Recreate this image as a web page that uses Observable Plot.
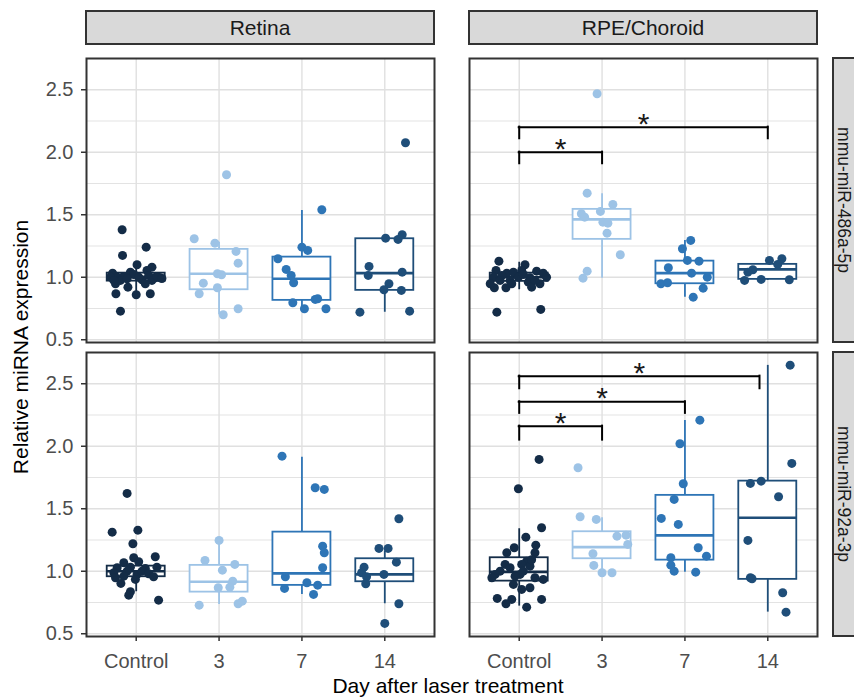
<!DOCTYPE html>
<html><head><meta charset="utf-8">
<script src="https://cdn.jsdelivr.net/npm/d3@7"></script>
<script src="https://cdn.jsdelivr.net/npm/@observablehq/plot@0.6"></script>
<style>body{margin:0;background:#fff;} #chart{width:854px;height:700px;overflow:hidden;}</style>
</head><body><div id="chart"></div>
<script>
const tissues = ["Retina", "RPE/Choroid"];
const mirnas = ["mmu-miR-486a-5p", "mmu-miR-92a-3p"];
const groups = ["Control", "3", "7", "14"];
const groupColors = ["#142c47", "#9dc3e6", "#2e75b6", "#1f4e79"];
const yTicks = [0.5, 1.0, 1.5, 2.0, 2.5];
const yMinor = [0.75, 1.25, 1.75, 2.25];
const xTitle = "Day after laser treatment";
const yTitle = "Relative miRNA expression";

// points: [jitter (category units), relative expression]
const ret486Ctrl = [[-0.17,1.38],[0.12,1.241],[-0.165,1.175],[0.01,1.10],[0.19,1.081],[-0.285,1.033],[-0.07,1.041],[0.13,1.055],[0.23,0.996],[0.29,0.996],[-0.23,1.001],[-0.15,1.007],[-0.03,1.023],[0.07,0.98],[-0.25,0.948],[-0.10,0.921],[-0.245,0.868],[0.0,0.86],[0.17,0.868],[-0.19,0.729],[-0.31,1.001],[-0.19,0.975],[-0.11,0.988],[0.03,1.001],[0.15,1.015],[0.19,0.975],[-0.27,0.975],[0.11,0.948],[0.25,1.007],[0.31,0.99]];
const ret486D3 = [[0.09,1.82],[-0.30,1.308],[-0.05,1.273],[0.205,1.207],[0.23,1.113],[-0.02,1.028],[0.03,1.02],[-0.19,0.953],[-0.02,0.916],[-0.24,0.868],[0.05,0.70],[0.23,0.748]];
const ret486D7 = [[0.24,1.54],[0.0,1.241],[0.07,1.215],[-0.29,1.148],[-0.19,1.063],[-0.13,1.015],[-0.10,0.956],[-0.11,0.796],[0.16,0.823],[0.19,0.828],[0.03,0.748],[0.29,0.748]];
const ret486D14 = [[0.25,2.076],[0.01,1.313],[0.16,1.303],[0.21,1.34],[-0.19,1.087],[-0.20,1.015],[0.21,1.041],[0.05,0.948],[-0.01,0.90],[0.20,0.895],[-0.30,0.721],[0.30,0.729]];

const rpe486Ctrl = [[-0.245,1.129],[0.07,1.10],[-0.28,1.055],[-0.15,1.033],[-0.07,1.041],[0.03,1.055],[0.21,1.049],[0.29,1.033],[-0.31,1.001],[-0.21,1.015],[-0.01,1.001],[0.13,0.996],[0.33,1.001],[-0.11,0.975],[0.11,0.961],[-0.30,0.916],[-0.16,0.916],[0.15,0.921],[-0.35,0.948],[0.25,0.948],[-0.27,0.721],[0.26,0.743],[-0.23,0.975],[0.05,1.023],[0.19,0.975],[-0.09,0.948]];
const rpe486D3 = [[-0.06,2.468],[-0.18,1.673],[0.13,1.583],[-0.02,1.527],[-0.25,1.508],[-0.21,1.481],[0.01,1.441],[0.07,1.433],[0.06,1.353],[0.22,1.18],[-0.18,1.049],[-0.23,0.993]];
const rpe486D7 = [[0.07,1.295],[-0.03,1.228],[0.03,1.135],[0.17,1.129],[-0.20,1.076],[0.08,1.033],[0.27,1.001],[-0.29,0.948],[-0.21,0.956],[0.22,0.913],[0.10,0.841]];
const rpe486D14 = [[0.02,1.135],[0.17,1.148],[0.12,1.103],[-0.18,1.06],[-0.24,1.041],[-0.08,0.983],[0.26,0.98],[-0.28,0.975]];

const ret92Ctrl = [[-0.11,1.623],[-0.29,1.313],[0.02,1.329],[-0.04,1.22],[-0.03,1.108],[0.23,1.116],[-0.15,1.068],[0.03,1.076],[-0.23,1.028],[-0.07,1.033],[0.11,1.023],[0.25,1.033],[-0.27,0.988],[-0.11,1.001],[0.01,0.975],[0.07,1.001],[0.15,0.98],[0.21,0.956],[-0.25,0.948],[-0.15,0.961],[-0.185,0.903],[-0.07,0.836],[-0.09,0.809],[0.27,0.769],[-0.01,0.935]];
const ret92D3 = [[0.0,1.247],[-0.17,1.087],[0.19,1.055],[0.04,1.009],[0.165,0.921],[-0.01,0.868],[0.13,0.873],[-0.24,0.729],[0.23,0.74],[0.28,0.761]];
const ret92D7 = [[-0.24,1.921],[0.16,1.668],[0.27,1.655],[0.25,1.201],[0.27,1.148],[0.25,1.028],[-0.20,0.956],[-0.21,0.863],[0.06,0.908],[0.19,0.889],[0.14,0.815]];
const ret92D14 = [[0.17,1.42],[-0.07,1.183],[0.04,1.183],[0.14,1.073],[-0.25,1.033],[-0.28,0.988],[-0.22,0.956],[-0.23,0.90],[-0.01,0.975],[0.17,0.74],[0.0,0.583]];

const rpe92Ctrl = [[0.24,1.895],[-0.01,1.66],[0.27,1.348],[0.08,1.273],[0.20,1.209],[-0.06,1.188],[-0.15,1.148],[0.19,1.148],[0.09,1.081],[-0.17,1.055],[-0.11,1.028],[0.03,1.055],[0.13,1.041],[0.01,0.975],[0.05,1.001],[0.29,0.935],[-0.07,0.895],[0.13,0.868],[0.03,0.855],[-0.265,0.783],[-0.09,0.775],[-0.16,0.74],[0.09,0.713],[0.27,0.775],[-0.29,0.975],[-0.23,1.001],[-0.05,0.961],[0.19,0.948],[-0.33,0.948],[0.15,1.092]];
const rpe92D3 = [[-0.29,1.828],[-0.265,1.436],[-0.07,1.415],[0.18,1.281],[0.29,1.289],[0.31,1.215],[-0.11,1.14],[-0.10,1.047],[0.0,0.988],[0.12,0.988]];
const rpe92D7 = [[0.18,2.209],[-0.06,2.02],[-0.02,1.70],[-0.13,1.575],[-0.285,1.423],[-0.08,1.375],[0.16,1.188],[0.26,1.121],[-0.17,1.108],[-0.17,1.049],[-0.13,1.001],[0.13,0.993]];
const rpe92D14 = [[0.27,2.649],[0.29,1.863],[-0.21,1.703],[-0.08,1.721],[0.13,1.596],[-0.24,1.247],[-0.21,0.948],[-0.19,0.94],[0.18,0.828],[0.22,0.673]];

// box statistics: [lower whisker, Q1, median, Q3, upper whisker] for Control, 3, 7, 14
const boxRet486 = [[0.86,0.969,1.0,1.033,1.10],[0.70,0.90,1.028,1.223,1.28],[0.75,0.815,0.988,1.161,1.535],[0.72,0.895,1.033,1.308,1.34]];
const boxRpe486 = [[0.90,0.967,1.0,1.033,1.12],[0.993,1.303,1.463,1.543,1.668],[0.841,0.948,1.033,1.129,1.295],[0.975,0.983,1.063,1.103,1.148]];
const boxRet92 = [[0.836,0.956,1.0,1.041,1.116],[0.735,0.833,0.916,1.047,1.247],[0.815,0.887,0.983,1.313,1.913],[0.74,0.916,0.975,1.10,1.161]];
const boxRpe92 = [[0.721,0.921,0.995,1.108,1.34],[0.988,1.10,1.193,1.316,1.428],[0.993,1.089,1.287,1.607,2.207],[0.673,0.935,1.428,1.721,2.647]];

// significance brackets: [from group, to group, bar value, leg end value]
const brkRpe486 = [[1,2,2.001,1.908],[1,4,2.201,2.108]];
const brkRpe92 = [[1,2,2.161,2.049],[1,3,2.356,2.263],[1,3.9,2.561,2.46]];
const starLabel = "*";

const panels = [
  {tissue: tissues[0], mir: mirnas[0], pts: [ret486Ctrl, ret486D3, ret486D7, ret486D14], box: boxRet486, brk: []},
  {tissue: tissues[1], mir: mirnas[0], pts: [rpe486Ctrl, rpe486D3, rpe486D7, rpe486D14], box: boxRpe486, brk: brkRpe486},
  {tissue: tissues[0], mir: mirnas[1], pts: [ret92Ctrl, ret92D3, ret92D7, ret92D14], box: boxRet92, brk: []},
  {tissue: tissues[1], mir: mirnas[1], pts: [rpe92Ctrl, rpe92D3, rpe92D7, rpe92D14], box: boxRpe92, brk: brkRpe92}
];

const points = [], boxes = [], brackets = [], legs = [];
for (const p of panels) {
  p.pts.forEach((arr, gi) => arr.forEach(([j, v]) => points.push({tissue: p.tissue, mir: p.mir, group: groups[gi], gi: gi + 1, j, v})));
  p.box.forEach(([lo, q1, med, q3, hi], gi) => boxes.push({tissue: p.tissue, mir: p.mir, group: groups[gi], gi: gi + 1, lo, q1, med, q3, hi}));
  p.brk.forEach(([from, to, top, bottom]) => {
    brackets.push({tissue: p.tissue, mir: p.mir, from, to, top, bottom});
    legs.push({tissue: p.tissue, mir: p.mir, x: from, top, bottom});
    legs.push({tissue: p.tissue, mir: p.mir, x: to, top, bottom});
  });
}

const BOX_HALF = 0.35;
const fxy = {fx: "tissue", fy: "mir"};

const chart = Plot.plot({
  width: 854, height: 700,
  marginLeft: 86, marginRight: 36, marginTop: 58, marginBottom: 63,
  style: {fontFamily: "'Liberation Sans', Arial, sans-serif", background: "white", overflow: "visible"},
  fx: {domain: tissues, paddingInner: 0.0912, paddingOuter: 0, axis: null},
  fy: {domain: mirnas, paddingInner: 0.034, paddingOuter: 0, axis: null},
  x: {domain: [0.4, 4.6]},
  y: {domain: [0.478, 2.75]},
  color: {domain: groups, range: groupColors},
  marks: [
    Plot.ruleY(yMinor, {stroke: "#e3e3e3", strokeWidth: 1.2}),
    Plot.ruleY(yTicks, {stroke: "#e0e0e0", strokeWidth: 1.4}),
    Plot.ruleX([1, 2, 3, 4], {stroke: "#e0e0e0", strokeWidth: 1.4}),
    Plot.ruleX(boxes, {...fxy, x: "gi", y1: "lo", y2: "hi", stroke: "group", strokeWidth: 1.8}),
    Plot.rect(boxes, {...fxy, x1: d => d.gi - BOX_HALF, x2: d => d.gi + BOX_HALF, y1: "q1", y2: "q3", fill: "white", stroke: "group", strokeWidth: 1.8}),
    Plot.ruleY(boxes, {...fxy, y: "med", x1: d => d.gi - BOX_HALF, x2: d => d.gi + BOX_HALF, stroke: "group", strokeWidth: 2.6}),
    Plot.dot(points, {...fxy, x: d => d.gi + d.j, y: "v", fill: "group", r: 4.5}),
    Plot.ruleY(brackets, {...fxy, y: "top", x1: "from", x2: "to", stroke: "black", strokeWidth: 2, strokeLinecap: "square"}),
    Plot.ruleX(legs, {...fxy, x: "x", y1: "bottom", y2: "top", stroke: "black", strokeWidth: 2, strokeLinecap: "square"}),
    Plot.text(brackets, {...fxy, x: d => (d.from + d.to) / 2, y: "top", text: () => starLabel, fontSize: 30, dy: -3, fill: "#1a1a1a"}),
    Plot.frame({stroke: "#333", strokeWidth: 2}),
    Plot.axisY({ticks: yTicks, tickFormat: d3.format(".1f"), tickSize: 5, tickPadding: 8, fontSize: 20, fill: "#4d4d4d", stroke: "#333", strokeWidth: 1.5, label: null}),
    Plot.axisX({ticks: [1, 2, 3, 4], tickFormat: i => groups[i - 1], tickSize: 5, tickPadding: 12, fontSize: 20, fill: "#4d4d4d", stroke: "#333", strokeWidth: 1.5, label: null})
  ]
});

document.getElementById("chart").appendChild(chart);

// facet strips and axis titles
const svg = d3.select(chart);
const fxS = chart.scale("fx"), fyS = chart.scale("fy");
const stripG = svg.append("g").attr("font-family", "'Liberation Sans', Arial, sans-serif");
tissues.forEach(t => {
  const x0 = fxS.apply(t), bw = fxS.bandwidth;
  stripG.append("rect").attr("x", x0).attr("y", 11).attr("width", bw).attr("height", 33)
    .attr("fill", "#d9d9d9").attr("stroke", "#333").attr("stroke-width", 2);
  stripG.append("text").attr("x", x0 + bw / 2).attr("y", 27.5).attr("text-anchor", "middle")
    .attr("dominant-baseline", "central").attr("font-size", 21).attr("fill", "#1a1a1a").text(t);
});
mirnas.forEach(m => {
  const y0 = fyS.apply(m), bh = fyS.bandwidth;
  stripG.append("rect").attr("x", 833).attr("y", y0).attr("width", 40).attr("height", bh)
    .attr("fill", "#d9d9d9").attr("stroke", "#333").attr("stroke-width", 2);
  stripG.append("text").attr("transform", `translate(843.5,${y0 + bh / 2}) rotate(90)`).attr("text-anchor", "middle")
    .attr("dominant-baseline", "central").attr("font-size", 17.5).attr("fill", "#1a1a1a").text(m);
});
svg.append("text").attr("x", 448).attr("y", 693).attr("text-anchor", "middle")
  .attr("font-family", "'Liberation Sans', Arial, sans-serif").attr("font-size", 21).attr("fill", "black").text(xTitle);
svg.append("text").attr("transform", "translate(28,347) rotate(-90)").attr("text-anchor", "middle")
  .attr("font-family", "'Liberation Sans', Arial, sans-serif").attr("font-size", 21).attr("fill", "black").text(yTitle);
</script>
</body></html>
